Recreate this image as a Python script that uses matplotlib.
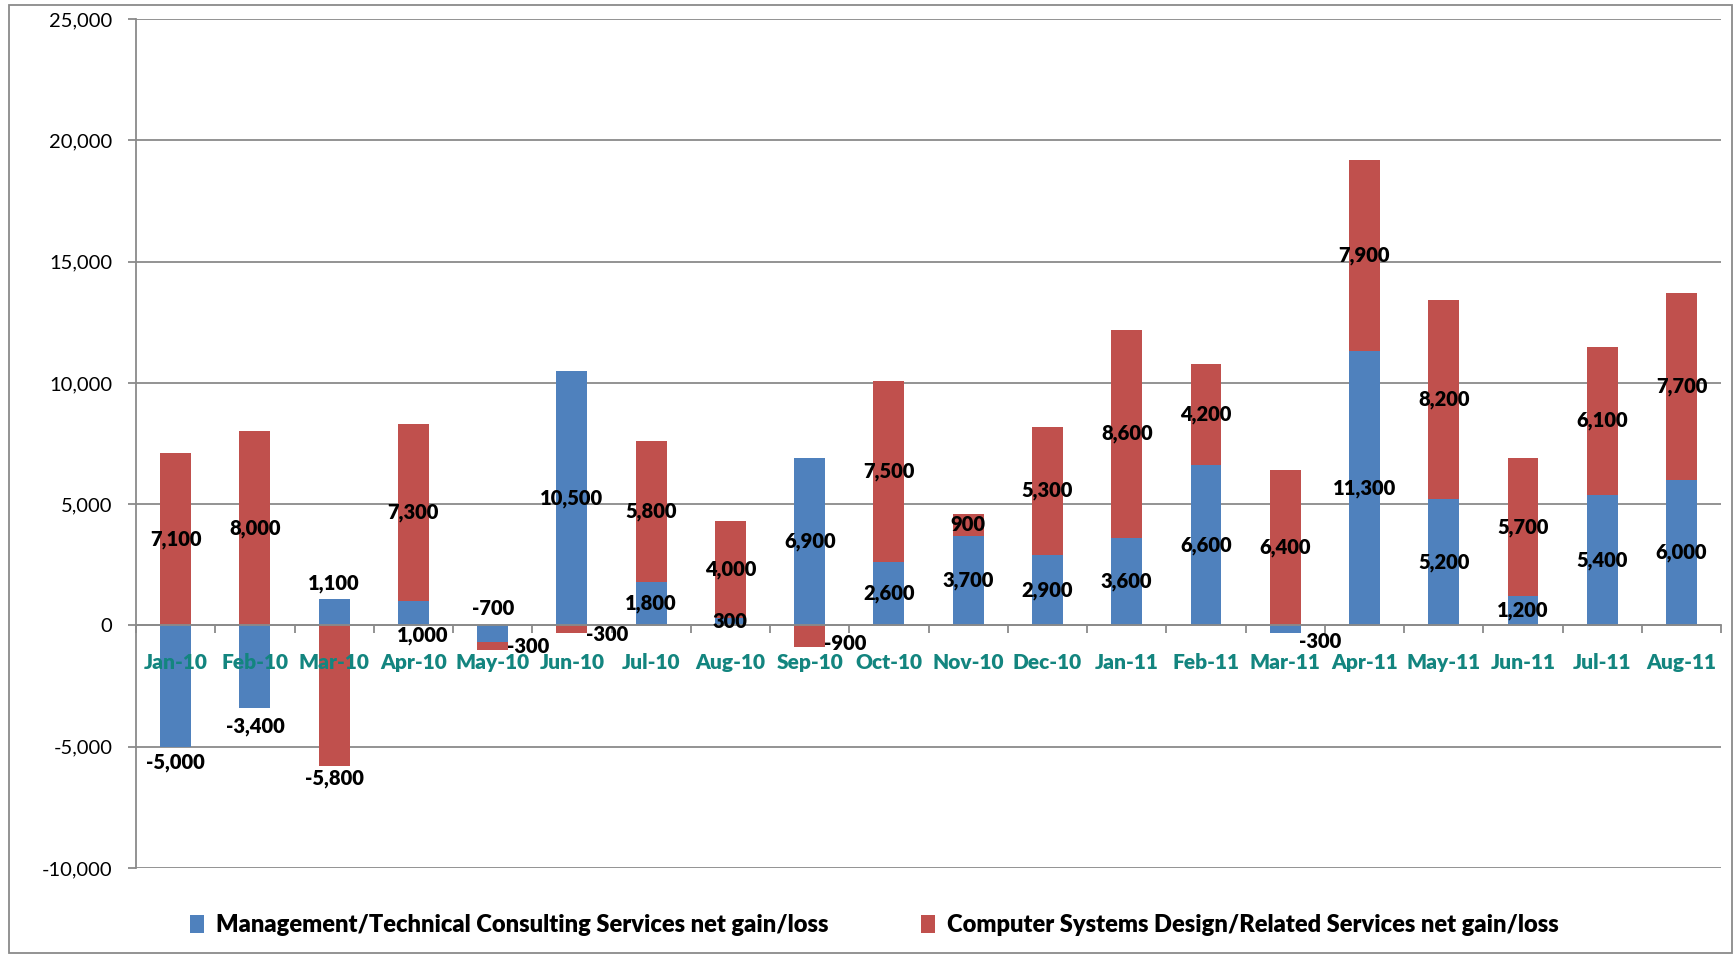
import matplotlib
matplotlib.use("Agg")
import matplotlib.pyplot as plt
import numpy as np
from matplotlib.patches import Rectangle
from matplotlib.ticker import FuncFormatter

# monthly net job gain/loss for the two service groups
months = ["Jan-10", "Feb-10", "Mar-10", "Apr-10", "May-10", "Jun-10", "Jul-10",
          "Aug-10", "Sep-10", "Oct-10", "Nov-10", "Dec-10", "Jan-11", "Feb-11",
          "Mar-11", "Apr-11", "May-11", "Jun-11", "Jul-11", "Aug-11"]
mgmt = [-5000, -3400, 1100, 1000, -700, 10500, 1800, 300, 6900, 2600,
        3700, 2900, 3600, 6600, -300, 11300, 5200, 1200, 5400, 6000]
comp = [7100, 8000, -5800, 7300, -300, -300, 5800, 4000, -900, 7500,
        900, 5300, 8600, 4200, 6400, 7900, 8200, 5700, 6100, 7700]
mgmt_name = "Management/Technical Consulting Services net gain/loss"
comp_name = "Computer Systems Design/Related Services net gain/loss"

# label nudges (data units, relative to segment middle) and labels set beside the bar
mgmt_shift = [-3150, -2470, 1170, -910, 1065, 0, 0, 0, 0, 0,
              0, 0, 0, 0, -510, 0, 0, 0, 0, 0]
comp_shift = [0, 0, -3400, 0, 0, -220, 0, 0, -300, 0,
              0, 0, 0, 0, 0, 0, 0, 0, 0, 0]
mgmt_beside = {14}
comp_beside = {4, 5, 8}

BLUE = "#4F81BD"
RED = "#C0504D"
GRID = "#8a8a8a"
TEAL = "#13857f"
FONT = "Lato"
HEAVY = 800

plt.rcParams["font.family"] = [FONT, "DejaVu Sans"]

fig = plt.figure(figsize=(17.35, 9.56), dpi=100)
ax = fig.add_axes([0.0784, 0.092, 0.9136, 0.888])

x = np.arange(len(months))
w = 0.39
m = np.array(mgmt)
c = np.array(comp)
# excel-style stacking: same-sign values pile up, opposite signs start at zero
c_base = np.where(np.sign(c) == np.sign(m), m, 0)

ax.bar(x, m, w, color=BLUE, zorder=3, label=mgmt_name)
ax.bar(x, c, w, bottom=c_base, color=RED, zorder=3, label=comp_name)

def put_labels(vals, bases, shifts, beside):
    for i, (v, b, s) in enumerate(zip(vals, bases, shifts)):
        y = b + v / 2 + s
        if i in beside:
            ax.text(i + w / 2 - 0.02, y, f"{v:,}", ha="left", va="center",
                    fontsize=14.5, fontweight=HEAVY, zorder=6)
        else:
            dx = 0.12 if (i == 3 and shifts is mgmt_shift) else 0
            ax.text(i + dx, y, f"{v:,}", ha="center", va="center",
                    fontsize=14.5, fontweight=HEAVY, zorder=6)

put_labels(m, np.zeros(len(m)), mgmt_shift, mgmt_beside)
put_labels(c, c_base, comp_shift, comp_beside)

ax.set_xlim(-0.5, len(months) - 0.5)
ax.set_ylim(-10000, 25000)
ax.set_yticks(np.arange(-10000, 25001, 5000))
ax.yaxis.set_major_formatter(FuncFormatter(lambda v, p: f"{int(v):,}"))
ax.grid(axis="y", color=GRID, linewidth=1.3)

# gridlines behind the bars, month labels over them
ax.yaxis.set_zorder(0.5)
ax.xaxis.set_zorder(5)

for s in ["top", "right"]:
    ax.spines[s].set_visible(False)
ax.spines["left"].set_color(GRID)
ax.spines["left"].set_linewidth(1.3)
ax.spines["bottom"].set_position(("data", 0))
ax.spines["bottom"].set_color(GRID)
ax.spines["bottom"].set_linewidth(1.3)
ax.spines["bottom"].set_zorder(4)

ax.set_xticks(x)
ax.set_xticklabels(months)
ax.set_xticks(np.arange(-0.5, len(months)), minor=True)
ax.tick_params(axis="x", which="major", length=0, pad=20, labelsize=15,
               labelcolor=TEAL)
ax.tick_params(axis="x", which="minor", length=6, width=1.3, color=GRID)
for t in ax.get_xticklabels():
    t.set_fontweight(HEAVY)
ax.tick_params(axis="y", length=6, width=1.3, color=GRID, pad=11, labelsize=14.5)

fig.legend(loc="center", bbox_to_anchor=(0.504, 0.032), ncol=2, frameon=False,
           handlelength=0.6, handleheight=0.8, handletextpad=0.5,
           columnspacing=3.9, prop={"size": 17, "weight": HEAVY})

fig.patches.append(Rectangle((0.005, 0.003), 0.993, 0.992, transform=fig.transFigure,
                             fill=False, edgecolor=GRID, linewidth=1.3))

fig.savefig("out.png", dpi=100)
